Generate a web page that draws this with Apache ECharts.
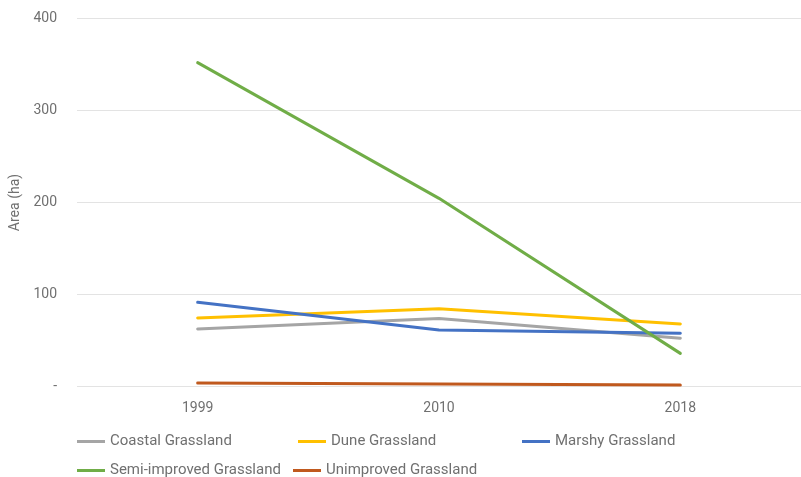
<!DOCTYPE html>
<html>
<head>
<meta charset="utf-8">
<script src="https://cdn.jsdelivr.net/npm/echarts@6/dist/echarts.min.js"></script>
<style>
  html, body { margin: 0; padding: 0; background: #ffffff; }
  #chart { width: 801px; height: 477px; }
</style>
</head>
<body>
<div id="chart"></div>
<script>
// Grassland area (ha) by survey year
const years = ['1999', '2010', '2018'];
const coastalGrassland = [62.5, 74, 52.5];
const duneGrassland = [74.5, 84.5, 68];
const marshyGrassland = [91.5, 61.5, 58];
const semiImprovedGrassland = [352, 204.5, 36];
const unimprovedGrassland = [3.8, 2.7, 1.5];

const seriesNames = ['Coastal Grassland', 'Dune Grassland', 'Marshy Grassland',
  'Semi-improved Grassland', 'Unimproved Grassland'];
const seriesValues = [coastalGrassland, duneGrassland, marshyGrassland,
  semiImprovedGrassland, unimprovedGrassland];
const seriesColors = ['#A5A5A5', '#FFC000', '#4472C4', '#70AD47', '#C0591E'];

const FONT = 'Roboto, "Liberation Sans", sans-serif';
const TEXT_COLOR = '#707070';

// one legend block per entry, laid out in two rows
const legendSlots = [
  { left: 77, top: 434 },
  { left: 298, top: 434 },
  { left: 522, top: 434 },
  { left: 77, top: 463 },
  { left: 293, top: 463 }
];

const chart = echarts.init(document.getElementById('chart'), null, { renderer: 'canvas' });

chart.setOption({
  animation: false,
  backgroundColor: '#ffffff',
  grid: { left: 77, right: -13, top: 18.5, bottom: 90.5, containLabel: false },
  xAxis: {
    type: 'category',
    data: years,
    boundaryGap: true,
    axisLine: { show: false },
    axisTick: { show: false },
    axisLabel: { color: TEXT_COLOR, fontFamily: FONT, fontSize: 14, margin: 15 }
  },
  yAxis: {
    type: 'value',
    min: 0,
    max: 400,
    interval: 100,
    name: 'Area (ha)',
    nameLocation: 'middle',
    nameGap: 55,
    nameTextStyle: { color: TEXT_COLOR, fontFamily: FONT, fontSize: 14 },
    axisLine: { show: false },
    axisTick: { show: false },
    axisLabel: {
      color: TEXT_COLOR, fontFamily: FONT, fontSize: 14, margin: 20,
      formatter: v => (v === 0 ? '-' : String(v))
    },
    splitLine: { lineStyle: { color: '#E3E3E3', width: 1 } }
  },
  legend: seriesNames.map((name, i) => ({
    data: [name],
    left: legendSlots[i].left,
    top: legendSlots[i].top,
    icon: 'rect',
    itemWidth: 28,
    itemHeight: 3,
    padding: 0,
    selectedMode: false,
    textStyle: { color: TEXT_COLOR, fontFamily: FONT, fontSize: 15 }
  })),
  series: seriesNames.map((name, i) => ({
    name,
    type: 'line',
    data: seriesValues[i],
    symbol: 'none',
    smooth: false,
    color: seriesColors[i],
    lineStyle: { width: 3, color: seriesColors[i], cap: 'round' },
    emphasis: { disabled: true }
  }))
});
</script>
</body>
</html>
